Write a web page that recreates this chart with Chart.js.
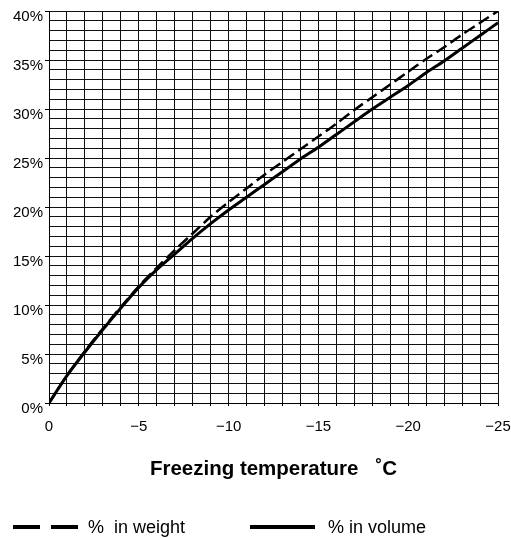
<!DOCTYPE html>
<html lang="en">
<head>
    <meta charset="UTF-8">
    <title>Freezing temperature</title>
    <script src="https://cdn.jsdelivr.net/npm/chart.js"></script>
    <style>
        html, body { margin: 0; padding: 0; background: #fff; }
        .chart-box { position: relative; width: 511px; height: 538px; }
    </style>
</head>
<body>
    <div class="chart-box">
        <canvas id="freezeChart"></canvas>
    </div>

    <script>
        // freezing temperature, °C
        const temps = [0, -1, -2, -3, -4, -5, -6, -7, -8, -9, -10, -11, -12,
            -13, -14, -15, -16, -17, -18, -19, -20, -21, -22, -23, -24, -25];
        // concentration, % in weight (dashed)
        const weightPct = [0, 2.8, 5.3, 7.6, 9.8, 11.9, 13.8, 15.6, 17.3, 19.0, 20.5, 21.9, 23.3,
            24.6, 25.9, 27.2, 28.5, 29.9, 31.2, 32.5, 33.8, 35.1, 36.3, 37.6, 38.8, 40.0];
        // concentration, % in volume (solid)
        const volumePct = [0, 2.8, 5.2, 7.5, 9.7, 11.8, 13.6, 15.2, 16.8, 18.3, 19.7, 21.0, 22.3,
            23.6, 24.9, 26.1, 27.4, 28.7, 30.0, 31.2, 32.4, 33.7, 34.9, 36.2, 37.5, 38.8];

        const xLabels = [0, -5, -10, -15, -20, -25];
        const yLabels = [0, 5, 10, 15, 20, 25, 30, 35, 40];

        const seriesNames = ['%  in weight', '% in volume'];

        const font = 'Arial, "Liberation Sans", sans-serif';

        function points(ys) {
            return temps.map((t, i) => ({ x: t, y: ys[i] }));
        }

        // legend at the bottom, drawn by hand to get the long line samples
        const bottomLegend = {
            id: 'bottomLegend',
            afterDraw(chart) {
                const c = chart.ctx;
                const y = 527;
                c.save();
                c.strokeStyle = '#000';
                c.lineWidth = 4;
                c.lineCap = 'butt';
                // dashed sample
                c.beginPath();
                c.moveTo(13, y); c.lineTo(40, y);
                c.moveTo(51, y); c.lineTo(78, y);
                c.stroke();
                // solid sample
                c.beginPath();
                c.moveTo(250, y); c.lineTo(315, y);
                c.stroke();
                c.fillStyle = '#000';
                c.font = '18px ' + font;
                c.textBaseline = 'middle';
                c.fillText(seriesNames[0], 88, y + 1);
                c.fillText(seriesNames[1], 328, y + 1);
                c.restore();
            }
        };

        const ctx = document.getElementById('freezeChart').getContext('2d');
        const freezeChart = new Chart(ctx, {
            type: 'line',
            data: {
                datasets: [{
                    label: seriesNames[0],
                    data: points(weightPct),
                    borderColor: '#000',
                    borderWidth: 2.5,
                    borderDash: [12, 5],
                    pointRadius: 0,
                    tension: 0.3,
                    fill: false
                }, {
                    label: seriesNames[1],
                    data: points(volumePct),
                    borderColor: '#000',
                    borderWidth: 3,
                    pointRadius: 0,
                    tension: 0.3,
                    fill: false
                }]
            },
            options: {
                responsive: true,
                maintainAspectRatio: false,
                animation: false,
                layout: { padding: { top: 10, right: 13, left: 0, bottom: 0 } },
                plugins: {
                    legend: { display: false },
                    tooltip: { enabled: false }
                },
                scales: {
                    x: {
                        type: 'linear',
                        reverse: true,
                        min: -25,
                        max: 0,
                        afterFit(scale) {
                            scale.height = 135;
                            scale.paddingLeft = 0;
                            scale.paddingRight = 0;
                        },
                        border: { display: true, color: '#000', width: 1 },
                        grid: {
                            color: '#111',
                            lineWidth: 1,
                            tickLength: 3,
                            tickColor: '#000'
                        },
                        ticks: {
                            stepSize: 1,
                            autoSkip: false,
                            maxRotation: 0,
                            padding: 12,
                            color: '#000',
                            font: { family: font, size: 15 },
                            callback: v => xLabels.includes(v) ? (v === 0 ? '0' : '\u2212' + Math.abs(v)) : ''
                        },
                        title: {
                            display: true,
                            text: 'Freezing temperature   \u02DAC',
                            color: '#000',
                            font: { family: font, size: 20.5, weight: 'bold' },
                            padding: { top: 0, bottom: 56 }
                        }
                    },
                    y: {
                        min: 0,
                        max: 40,
                        afterFit(scale) { scale.width = 49; },
                        border: { display: true, color: '#000', width: 1 },
                        grid: {
                            color: '#111',
                            lineWidth: 1,
                            tickLength: 4,
                            tickColor: c => yLabels.includes(c.tick.value) ? '#000' : 'rgba(0,0,0,0)'
                        },
                        ticks: {
                            stepSize: 1,
                            autoSkip: false,
                            padding: 2,
                            labelOffset: 6,
                            color: '#000',
                            font: { family: font, size: 15 },
                            callback: v => yLabels.includes(v) ? v + '%' : ''
                        }
                    }
                }
            },
            plugins: [bottomLegend]
        });
    </script>
</body>
</html>
